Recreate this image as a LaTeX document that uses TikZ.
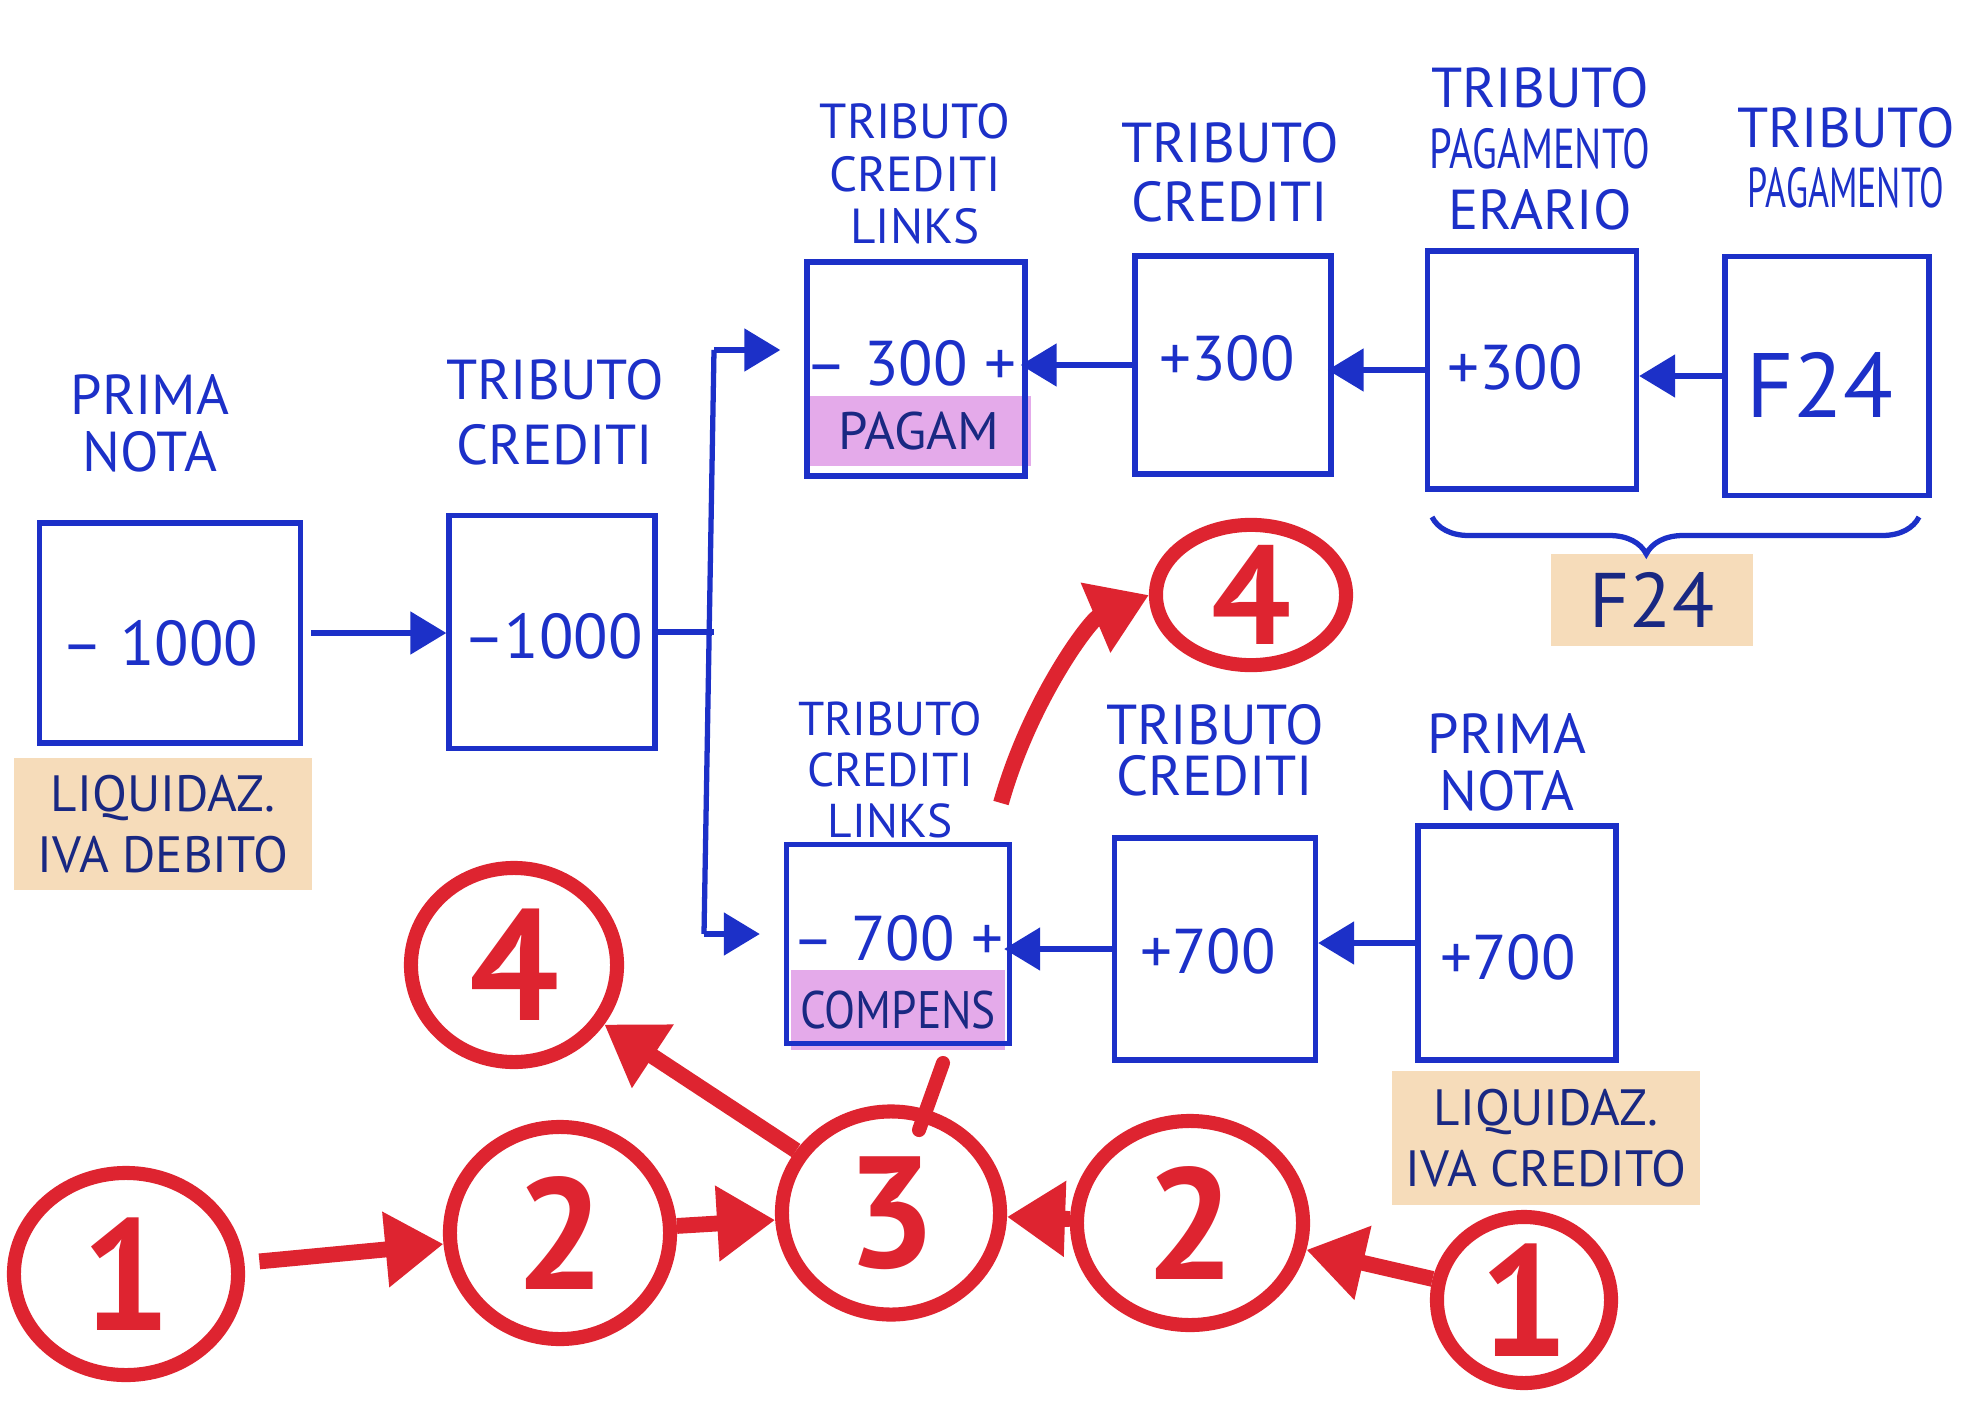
\documentclass[tikz,border=0pt]{standalone}
\usepackage{graphicx}
\usepackage{fontspec}
\setmainfont{PT Sans}
\usetikzlibrary{arrows.meta,shapes.geometric,decorations.pathreplacing}
\definecolor{pen}{RGB}{28,48,200}
\definecolor{ink}{RGB}{25,40,130}
\definecolor{marker}{RGB}{222,36,48}
\definecolor{tape}{RGB}{246,220,186}
\definecolor{hlpink}{RGB}{228,170,234}
\begin{document}
\begin{tikzpicture}[x=0.01cm,y=-0.01cm,
  box/.style={draw=pen,line width=1.5pt,inner sep=0pt},
  lbl/.style={text=pen,align=center,inner sep=0pt,font=\fontsize{16}{#1}\selectfont},
  val/.style={text=pen,inner sep=0pt,font=\fontsize{18}{21}\selectfont},
  tapenote/.style={fill=tape,text=ink,align=center,inner sep=0pt,font=\fontsize{14.5}{17.4}\selectfont},
  pinknote/.style={fill=hlpink,text=ink,inner sep=0pt,font=\fontsize{15}{18}\selectfont},
  bline/.style={draw=pen,line width=1.5pt},
  barrow/.style={draw=pen,line width=1.5pt,-{Triangle[length=0.36cm,width=0.42cm]}},
  rc/.style={ellipse,draw=marker,line width=4pt,text=marker,inner sep=0pt,font=\fontsize{45}{45}\bfseries\selectfont},
  rarrow/.style={draw=marker,line width=4.5pt,-{Triangle[length=0.58cm,width=0.72cm]}},
  rline/.style={draw=marker,line width=4pt,line cap=round}]
\useasboundingbox (0,0) rectangle (1984,1406);
\fill[white] (0,0) rectangle (1984,1406);

% highlighter strips
\node[tapenote,minimum width=2.98cm,minimum height=1.31cm] (t1) at (163,824) {LIQUIDAZ.\\IVA DEBITO};
\node[tapenote,minimum width=3.08cm,minimum height=1.33cm] (t2) at (1546,1138) {LIQUIDAZ.\\IVA CREDITO};
\node[tapenote,minimum width=2.01cm,minimum height=0.92cm,font=\fontsize{22}{24}\selectfont] (t3) at (1652,600) {F24};
\node[pinknote,minimum width=2.24cm,minimum height=0.70cm] (p1) at (919,431) {PAGAM};
\node[pinknote,minimum width=2.13cm,minimum height=0.80cm] (p2) at (898,1010) {\scalebox{0.86}[1]{COMPENS}};

% boxes
\node[box,minimum width=2.61cm,minimum height=2.20cm] (b1) at (170,633) {};
\node[box,minimum width=2.06cm,minimum height=2.33cm] (b2) at (552,632) {};
\node[box,minimum width=2.18cm,minimum height=2.14cm] (b3) at (916,369) {};
\node[box,minimum width=1.96cm,minimum height=2.18cm] (b4) at (1233,365) {};
\node[box,minimum width=2.09cm,minimum height=2.38cm] (b5) at (1532,370) {};
\node[box,minimum width=2.04cm,minimum height=2.39cm] (b6) at (1827,376) {};
\node[box,minimum width=2.23cm,minimum height=1.99cm] (b7) at (898,944) {};
\node[box,minimum width=2.01cm,minimum height=2.22cm] (b8) at (1215,949) {};
\node[box,minimum width=1.98cm,minimum height=2.34cm] (b9) at (1517,943) {};

% values
\node[val] (v1) at (160,643) {– 1000};
\node[val] (v2) at (553,636) {–1000};
\node[val] (v3) at (911,363) {– 300 +};
\node[val] (v4) at (1227,358) {+300};
\node[val] (v5) at (1515,367) {+300};
\node[val,font=\fontsize{26}{28}\selectfont] (v6) at (1820,385) {F24};
\node[val] (v7) at (898,938) {– 700 +};
\node[val] (v8) at (1208,951) {+700};
\node[val] (v9) at (1508,957) {+700};

% labels
\node[lbl=16.2pt] (l1) at (150,423) {PRIMA\\NOTA};
\node[lbl=18.5pt] (l2) at (555,412) {TRIBUTO\\CREDITI};
\node[lbl=15pt,font=\fontsize{14}{15}\selectfont] (l3) at (915,174) {TRIBUTO\\CREDITI\\LINKS};
\node[lbl=16.8pt] (l4) at (1230,172) {TRIBUTO\\CREDITI};
\node[lbl=17.4pt] (l5) at (1540,149) {TRIBUTO\\\scalebox{0.72}[1]{PAGAMENTO}\\ERARIO};
\node[lbl=17pt] (l6) at (1846,158) {TRIBUTO\\\scalebox{0.64}[1]{PAGAMENTO}};
\node[lbl=14.5pt,font=\fontsize{13.5}{14.5}\selectfont] (l7) at (890,770) {TRIBUTO\\CREDITI\\LINKS};
\node[lbl=14.5pt] (l8) at (1215,750) {TRIBUTO\\CREDITI};
\node[lbl=16.2pt] (l9) at (1507,762) {PRIMA\\NOTA};

% brace
\coordinate (br1) at (1919,517);
\coordinate (br2) at (1432,517);
\draw[bline,decorate,decoration={brace,amplitude=0.37cm,aspect=0.56}] (br1) -- (br2);

% blue connectors
\coordinate (jt) at (714,350);
\coordinate (jb) at (704,934);
\draw[barrow,shorten <=0.08cm] (b1.east) -- (b1.east -| b2.west);
\draw[bline] (b2.east) -- (b2.east -| jt);
\draw[bline] (jt) -- (jb);
\draw[barrow,shorten >=0.24cm] (jt) -- (jt -| b3.west);
\draw[barrow,shorten >=0.24cm] (jb) -- (jb -| b7.west);
\draw[barrow,shorten >=-0.07cm] (b4.west) -- (b4.west -| b3.east);
\draw[barrow,shorten >=-0.06cm] (b5.west) -- (b5.west -| b4.east);
\draw[barrow] (b6.west) -- (b6.west -| b5.east);
\draw[barrow,shorten >=-0.08cm] (b8.west) -- (b8.west -| b7.east);
\draw[barrow] (b9.west) -- (b9.west -| b8.east);

% red circles
\node[rc,minimum width=2.24cm,minimum height=2.02cm] (c1) at (126,1274) {1};
\node[rc,minimum width=2.20cm,minimum height=2.12cm] (c2) at (560,1233) {2};
\node[rc,minimum width=2.18cm,minimum height=2.03cm] (c3) at (891,1213) {3};
\node[rc,minimum width=2.06cm,minimum height=1.94cm] (c4l) at (514,965) {4};
\node[rc,minimum width=1.90cm,minimum height=1.36cm,font=\fontsize{40}{40}\bfseries\selectfont] (c4t) at (1251,595) {4};
\node[rc,minimum width=2.26cm,minimum height=2.04cm] (c2r) at (1190,1223) {2};
\node[rc,minimum width=1.74cm,minimum height=1.66cm] (c1r) at (1524,1300) {1};

% red connectors
\draw[rarrow,shorten <=0.15cm] (c1) -- (c2);
\draw[rarrow] (c2) -- (c3);
\draw[rarrow] (c2r) -- (c3);
\draw[rarrow] (c1r) -- (c2r);
\draw[rarrow] (c3) -- (c4l);
\coordinate (cs) at (1001,803);
\draw[rarrow] (cs) .. controls (1030,700) and (1090,620) .. (c4t.west);
\coordinate (rl1) at (943,1063);
\coordinate (rl2) at (919,1130);
\draw[rline] (rl1) -- (rl2);
\end{tikzpicture}
\end{document}
